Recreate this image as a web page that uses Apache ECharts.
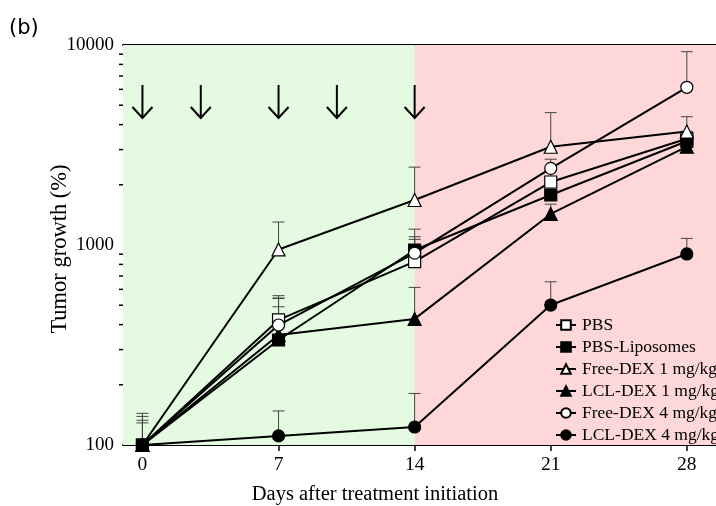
<!DOCTYPE html>
<html>
<head>
<meta charset="utf-8">
<script src="https://cdn.jsdelivr.net/npm/echarts@6/dist/echarts.min.js"></script>
<style>
    html, body { margin: 0; padding: 0; background: #fff; }
    #main { width: 716px; height: 506px; }
</style>
</head>
<body>
<div id="main"></div>
<script>
var days = [0, 7, 14, 21, 28];
var xTicks = [0, 7, 14, 21, 28];
var yTicks = [100, 1000, 10000];
var minorTicks = [200, 300, 400, 500, 600, 700, 800, 900, 2000, 3000, 4000, 5000, 6000, 7000, 8000, 9000];
var doseDays = [0, 3, 7, 10, 14];
var phaseBands = [[-1, 14], [14, 29.5]];

var names = ['PBS', 'PBS-Liposomes', 'Free-DEX 1 mg/kg', 'LCL-DEX 1 mg/kg', 'Free-DEX 4 mg/kg', 'LCL-DEX 4 mg/kg'];
var pbs = [100, 422, 826, 2065, 3400];
var pbsLipo = [100, 335, 944, 1778, 3300];
var freeDex1 = [100, 950, 1679, 3100, 3690];
var lclDex1 = [100, 355, 427, 1430, 3100];
var freeDex4 = [100, 398, 910, 2418, 6146];
var lclDex4 = [100, 111, 123, 501, 902];

// top of the error bar (mean + SD), null = not visible
var pbsHi = [139, 543, 1067, 2350, 3700];
var pbsLipoHi = [133, 491, 1200, 2000, 3600];
var freeDex1Hi = [144, 1303, 2450, 4590, 4380];
var lclDex1Hi = [129, 558, 614, 1600, 3300];
var freeDex4Hi = [null, 540, 1100, 2686, 9260];
var lclDex4Hi = [null, 148, 181, 655, 1079];

var means = [pbs, pbsLipo, freeDex1, lclDex1, freeDex4, lclDex4];
var highs = [pbsHi, pbsLipoHi, freeDex1Hi, lclDex1Hi, freeDex4Hi, lclDex4Hi];
var symbols = ['rect', 'rect', 'triangle', 'triangle', 'circle', 'circle'];
var symbolSizes = [12, 12, 13, 13, 12, 12];
var fills = ['#ffffff', '#000000', '#ffffff', '#000000', '#ffffff', '#000000'];

var serif = 'Liberation Serif';

function errorItem(params, api) {
    var p = api.coord([api.value(0), api.value(1)]);
    var q = api.coord([api.value(0), api.value(2)]);
    var st = {stroke: '#444', lineWidth: 1};
    return {
        type: 'group',
        children: [
            {type: 'line', shape: {x1: p[0], y1: p[1], x2: q[0], y2: q[1]}, style: st},
            {type: 'line', shape: {x1: q[0] - 6, y1: q[1], x2: q[0] + 6, y2: q[1]}, style: st}
        ]
    };
}

function minorTickItem(params, api) {
    var p = api.coord([api.value(0), api.value(1)]);
    return {
        type: 'line',
        shape: {x1: p[0] - 4, y1: p[1], x2: p[0], y2: p[1]},
        style: {stroke: '#000', lineWidth: 1.5}
    };
}

function arrowItem(params, api) {
    var p = api.coord([api.value(0), 10000]);
    var x = p[0], y1 = p[1] + 40, y2 = p[1] + 73;
    var st = {stroke: '#000', lineWidth: 2, fill: null};
    return {
        type: 'group',
        children: [
            {type: 'line', shape: {x1: x, y1: y1, x2: x, y2: y2}, style: st},
            {type: 'polyline', shape: {points: [[x - 10, y2 - 11], [x, y2], [x + 10, y2 - 11]]}, style: st}
        ]
    };
}

var series = [];
var bandColors = ['#e5fbe1', '#fed8d8'];
series.push({
    type: 'line',
    data: [],
    silent: true,
    markArea: {
        silent: true,
        data: phaseBands.map(function (b, i) {
            return [{xAxis: b[0], itemStyle: {color: bandColors[i]}}, {xAxis: b[1]}];
        })
    }
});

for (var i = 0; i < names.length; i++) {
    var err = [];
    for (var j = 0; j < days.length; j++) {
        if (highs[i][j] != null) err.push([days[j], means[i][j], highs[i][j]]);
    }
    series.push({
        type: 'custom',
        renderItem: errorItem,
        data: err,
        z: 1,
        silent: true
    });
}

for (var i = 0; i < names.length; i++) {
    series.push({
        name: names[i],
        type: 'line',
        data: days.map(function (d, j) { return [d, means[i][j]]; }),
        symbol: symbols[i],
        symbolSize: symbolSizes[i],
        showAllSymbol: true,
        lineStyle: {color: '#000', width: 2},
        itemStyle: {color: fills[i], borderColor: '#000', borderWidth: 1.2},
        emphasis: {disabled: true},
        z: 3 + i
    });
}

series.push({
    type: 'custom',
    renderItem: minorTickItem,
    clip: false,
    silent: true,
    data: minorTicks.map(function (v) { return [phaseBands[0][0], v]; }),
    z: 10
});

series.push({
    type: 'custom',
    renderItem: arrowItem,
    clip: false,
    silent: true,
    data: doseDays.map(function (d) { return [d, 10000]; }),
    z: 10
});

var myChart = echarts.init(document.getElementById('main'));
var option = {
    animation: false,
    backgroundColor: '#ffffff',
    grid: {left: 123, top: 45, right: 0, bottom: 61},
    legend: {
        orient: 'vertical',
        left: 550,
        top: 311,
        itemWidth: 20,
        itemHeight: 12,
        itemGap: 4,
        data: names,
        textStyle: {fontFamily: serif, fontSize: 17.5, color: '#000', padding: [0, 0, 0, 1]}
    },
    graphic: [
        {type: 'text', left: 9, top: 18, style: {text: '(b)', font: '21px "DejaVu Sans"', fill: '#000'}},
        {type: 'text', x: 375, y: 495, style: {text: 'Days after treatment initiation', font: '20.5px "Liberation Serif"', fill: '#000', align: 'center', verticalAlign: 'middle'}},
        {type: 'text', x: 60, y: 249, rotation: Math.PI / 2, style: {text: 'Tumor growth (%)', font: '22.5px "Liberation Serif"', fill: '#000', align: 'center', verticalAlign: 'middle'}}
    ],
    xAxis: [{
        type: 'value',
        min: phaseBands[0][0],
        max: phaseBands[1][1],
        splitLine: {show: false},
        axisLine: {lineStyle: {color: '#000', width: 2}},
        axisTick: {customValues: xTicks, length: 6, lineStyle: {color: '#000', width: 1.5}},
        axisLabel: {customValues: xTicks, margin: 10, fontFamily: serif, fontSize: 19.5, color: '#000'}
    }, {
        type: 'value',
        position: 'top',
        min: phaseBands[0][0],
        max: phaseBands[1][1],
        splitLine: {show: false},
        axisLine: {show: true, lineStyle: {color: '#000', width: 2}},
        axisTick: {show: false},
        axisLabel: {show: false}
    }],
    yAxis: {
        type: 'log',
        logBase: 10,
        min: 100,
        max: 10000,
        splitLine: {show: false},
        axisLine: {show: true, lineStyle: {color: '#000', width: 2}},
        axisTick: {show: true, customValues: yTicks, length: 6, lineStyle: {color: '#000', width: 1.5}},
        axisLabel: {
            customValues: yTicks, margin: 9, fontFamily: serif, fontSize: 19, color: '#000',
            formatter: function (v) { return String(Math.round(v)); }
        }
    },
    series: series
};
myChart.setOption(option);
</script>
</body>
</html>
